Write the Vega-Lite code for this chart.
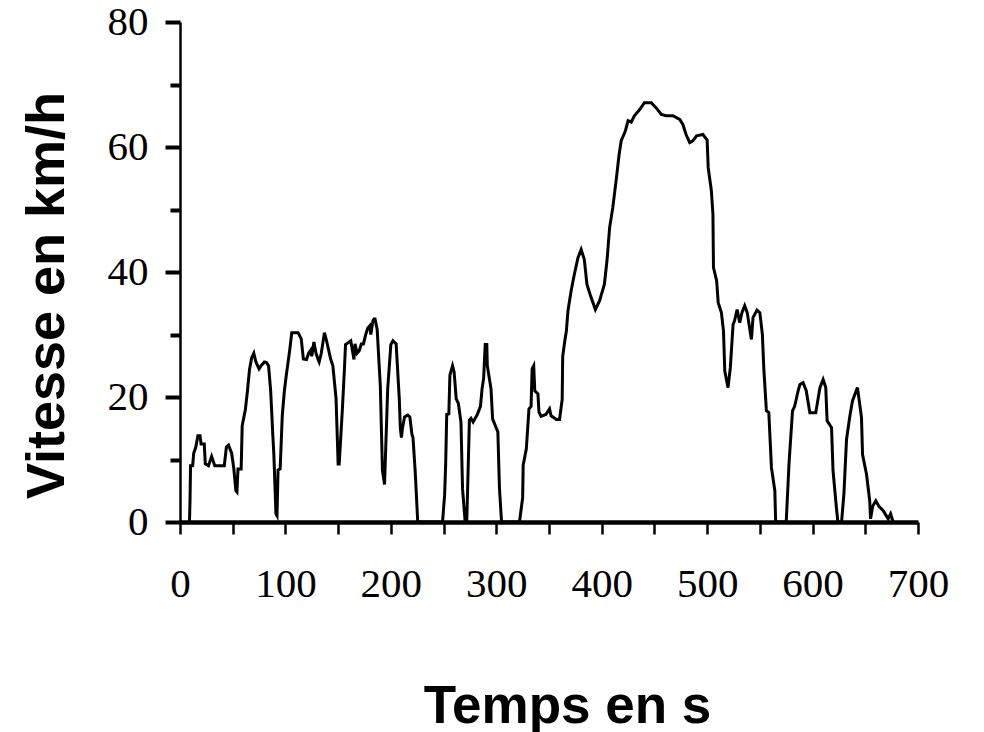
{
  "$schema": "https://vega.github.io/schema/vega-lite/v6.json",
  "autosize": {"type": "none"},
  "padding": {"left": 180, "top": 22, "right": 66, "bottom": 210},
  "width": 738,
  "height": 500,
  "background": "white",
  "config": {"view": {"stroke": null}},
  "data": {"values": [
    {"t":9,"v":0},{"t":9.5,"v":3.5},{"t":10,"v":9},{"t":12,"v":9},{"t":13,"v":11},{"t":15,"v":12},{"t":17,"v":13.8},{"t":19,"v":13.8},{"t":20,"v":12.5},{"t":23,"v":12.5},{"t":24,"v":9.3},{"t":27,"v":9},{"t":28,"v":9.5},{"t":30,"v":10.5},{"t":32,"v":9.5},{"t":33,"v":9},{"t":42,"v":9},{"t":44,"v":12},{"t":46,"v":12.3},{"t":49,"v":11},{"t":51,"v":8.6},{"t":53,"v":5},{"t":54,"v":4.8},{"t":55,"v":8.5},{"t":58,"v":8.5},{"t":59,"v":15.4},{"t":62,"v":18},{"t":64,"v":21},{"t":66,"v":24.5},{"t":68,"v":26.3},{"t":70,"v":27},{"t":72,"v":25.6},{"t":75,"v":24.5},{"t":77,"v":25},{"t":80,"v":25.6},{"t":82,"v":25.5},{"t":84,"v":25},{"t":86,"v":21},{"t":88,"v":14},{"t":89,"v":10.9},{"t":91,"v":1.3},{"t":92,"v":1},{"t":93,"v":8.3},{"t":95,"v":8.5},{"t":97,"v":17},{"t":99,"v":21},{"t":101,"v":23.7},{"t":104,"v":27.4},{"t":106,"v":30.3},{"t":112,"v":30.3},{"t":115,"v":29.3},{"t":117,"v":26.1},{"t":120,"v":26},{"t":122,"v":27},{"t":124,"v":27.5},{"t":125,"v":26.5},{"t":127,"v":28.8},{"t":129,"v":27},{"t":131,"v":26},{"t":132,"v":25.6},{"t":134,"v":27},{"t":137,"v":30.3},{"t":139,"v":29},{"t":143,"v":26},{"t":145,"v":25},{"t":148,"v":19.8},{"t":150,"v":9.3},{"t":151,"v":9.3},{"t":154,"v":18},{"t":156,"v":24.6},{"t":157,"v":28.4},{"t":162,"v":29},{"t":165,"v":26},{"t":166,"v":28.5},{"t":168,"v":27},{"t":170,"v":27.4},{"t":172,"v":28.5},{"t":174,"v":28.5},{"t":176,"v":29.9},{"t":178,"v":31},{"t":180,"v":31.4},{"t":181,"v":30},{"t":183,"v":32.2},{"t":184,"v":32.5},{"t":185,"v":32.5},{"t":187,"v":30.8},{"t":190,"v":21.8},{"t":192,"v":8.3},{"t":194,"v":6},{"t":197,"v":21.3},{"t":200,"v":28.4},{"t":202,"v":29},{"t":205,"v":28.5},{"t":208,"v":19.7},{"t":209,"v":15},{"t":210,"v":13.5},{"t":211,"v":15},{"t":213,"v":16.8},{"t":216,"v":17.1},{"t":218,"v":16.8},{"t":220,"v":14},{"t":221,"v":13.5},{"t":223,"v":8.3},{"t":224,"v":5},{"t":225.5,"v":0},
    {"t":249,"v":0},{"t":251,"v":4.3},{"t":252,"v":9.3},{"t":253,"v":17.2},{"t":255,"v":17.3},{"t":256,"v":23.5},{"t":258.5,"v":25},{"t":260,"v":24},{"t":262,"v":19.7},{"t":264,"v":19},{"t":266.5,"v":16},{"t":268,"v":5.3},{"t":270.5,"v":0},{"t":272,"v":0},{"t":274.5,"v":16.3},{"t":276,"v":16.6},{"t":278,"v":16},{"t":282,"v":17.2},{"t":285,"v":18.5},{"t":286.5,"v":21.3},{"t":288,"v":23},{"t":289.5,"v":28.4},{"t":291,"v":28.4},{"t":291.5,"v":25},{"t":295,"v":21.3},{"t":296.5,"v":16.5},{"t":301.5,"v":14.4},{"t":303,"v":5.4},{"t":305,"v":0},
    {"t":322,"v":0},{"t":325,"v":3.9},{"t":325.5,"v":9.1},{"t":328.5,"v":11.7},{"t":331,"v":18.1},{"t":333,"v":18.5},{"t":334,"v":24.5},{"t":335.5,"v":25},{"t":336.5,"v":21},{"t":339.5,"v":20.5},{"t":340.5,"v":17.6},{"t":342.5,"v":16.9},{"t":347,"v":17.2},{"t":350.5,"v":18.1},{"t":352,"v":17},{"t":357,"v":16.4},{"t":360,"v":16.4},{"t":362.5,"v":19.6},{"t":363,"v":26.5},{"t":365,"v":29},{"t":366.5,"v":30.6},{"t":368,"v":33.8},{"t":371,"v":37},{"t":374,"v":39.6},{"t":377.5,"v":42.3},{"t":380.5,"v":43.6},{"t":383.5,"v":42},{"t":386,"v":38},{"t":389,"v":36.4},{"t":394,"v":34},{"t":398,"v":35.4},{"t":402.5,"v":38},{"t":405,"v":41.8},{"t":407.5,"v":47.1},{"t":410.5,"v":50.3},{"t":414,"v":55.1},{"t":416.5,"v":58.8},{"t":418.5,"v":61},{"t":422.5,"v":62.6},{"t":425,"v":64.2},{"t":428,"v":64},{"t":431,"v":65},{"t":436,"v":66},{"t":440.5,"v":67.1},{"t":447,"v":67.1},{"t":451.5,"v":66.3},{"t":456.5,"v":65.2},{"t":461,"v":65},{"t":467.5,"v":65},{"t":474,"v":64.4},{"t":477,"v":63.6},{"t":480,"v":62},{"t":483.5,"v":60.7},{"t":486.5,"v":61},{"t":490,"v":61.8},{"t":496,"v":62},{"t":500,"v":61.1},{"t":501,"v":56.7},{"t":504,"v":53},{"t":505.5,"v":49.2},{"t":506,"v":40.7},{"t":509,"v":38.6},{"t":510.5,"v":35.1},{"t":513.5,"v":33.5},{"t":515.5,"v":30.6},{"t":516.7,"v":24.2},{"t":519.8,"v":21.5},{"t":522,"v":24.7},{"t":524.6,"v":31.6},{"t":526,"v":32.2},{"t":528.4,"v":34},{"t":530.9,"v":31.9},{"t":533,"v":33.5},{"t":535.6,"v":34.6},{"t":538,"v":33.5},{"t":542,"v":29.2},{"t":543.5,"v":32.7},{"t":547.3,"v":33.9},{"t":550,"v":33.5},{"t":552.4,"v":30},{"t":553.7,"v":24.7},{"t":556.2,"v":17.8},{"t":558.5,"v":17.5},{"t":561,"v":8.7},{"t":564.2,"v":5},{"t":565,"v":0},
    {"t":575,"v":0},{"t":577.7,"v":9.5},{"t":581,"v":17.8},{"t":583,"v":18.5},{"t":586.3,"v":21},{"t":588,"v":22},{"t":591,"v":22.3},{"t":594,"v":21},{"t":597.4,"v":17.5},{"t":603,"v":17.5},{"t":607,"v":21.5},{"t":610,"v":22.8},{"t":612.5,"v":21.5},{"t":613.8,"v":16.2},{"t":618,"v":15.1},{"t":619.4,"v":8.2},{"t":622.6,"v":2.3},{"t":624,"v":0},{"t":627.5,"v":0},{"t":629.7,"v":4.4},{"t":632.2,"v":13.2},{"t":635.4,"v":17},{"t":637.9,"v":19.4},{"t":642.6,"v":21.5},{"t":646.4,"v":16.7},{"t":647.4,"v":10.8},{"t":651.2,"v":7.6},{"t":654.2,"v":3.4},{"t":655,"v":0.5},{"t":657,"v":2.5},{"t":660,"v":3.4},{"t":663,"v":2.5},{"t":667,"v":1.8},{"t":671.7,"v":0.5},{"t":674,"v":1.3},{"t":676.4,"v":0}
  ]},
  "mark": {"type": "line", "color": "black", "strokeWidth": 3, "clip": false},
  "encoding": {
    "x": {
      "field": "t", "type": "quantitative",
      "scale": {"domain": [0, 700], "nice": false},
      "axis": {
        "values": [0,50,100,150,200,250,300,350,400,450,500,550,600,650,700],
        "labelExpr": "datum.value % 100 === 0 ? datum.label : ''",
        "labelFont": "Liberation Serif", "labelFontSize": 41, "labelColor": "black",
        "labelPadding": 30, "labelFlush": false, "labelOverlap": false,
        "tickColor": "black", "tickWidth": 2.5, "tickSize": 12,
        "domainColor": "black", "domainWidth": 4.5,
        "grid": false,
        "title": "Temps en s",
        "titleFont": "Liberation Sans", "titleFontSize": 53, "titleFontWeight": "bold", "titleColor": "black",
        "titleX": 387, "titleY": 200, "titleAlign": "center", "titleBaseline": "alphabetic", "titleAnchor": null
      }
    },
    "y": {
      "field": "v", "type": "quantitative",
      "scale": {"domain": [0, 80], "nice": false},
      "axis": {
        "values": [0,10,20,30,40,50,60,70,80],
        "labelExpr": "datum.value % 20 === 0 ? datum.label : ''",
        "labelFont": "Liberation Serif", "labelFontSize": 41, "labelColor": "black",
        "labelPadding": 17, "labelFlush": false, "labelOverlap": false,
        "tickColor": "black", "tickWidth": 4,
        "tickSize": {"condition": {"test": "datum.value % 20 === 0", "value": 15}, "value": 10},
        "domainColor": "black", "domainWidth": 2.5,
        "grid": false,
        "title": "Vitesse en km/h",
        "titleFont": "Liberation Sans", "titleFontSize": 54, "titleFontWeight": "bold", "titleColor": "black",
        "titleAngle": -90, "titleX": -117, "titleY": 273, "titleAlign": "center", "titleBaseline": "alphabetic", "titleAnchor": null
      }
    }
  }
}
